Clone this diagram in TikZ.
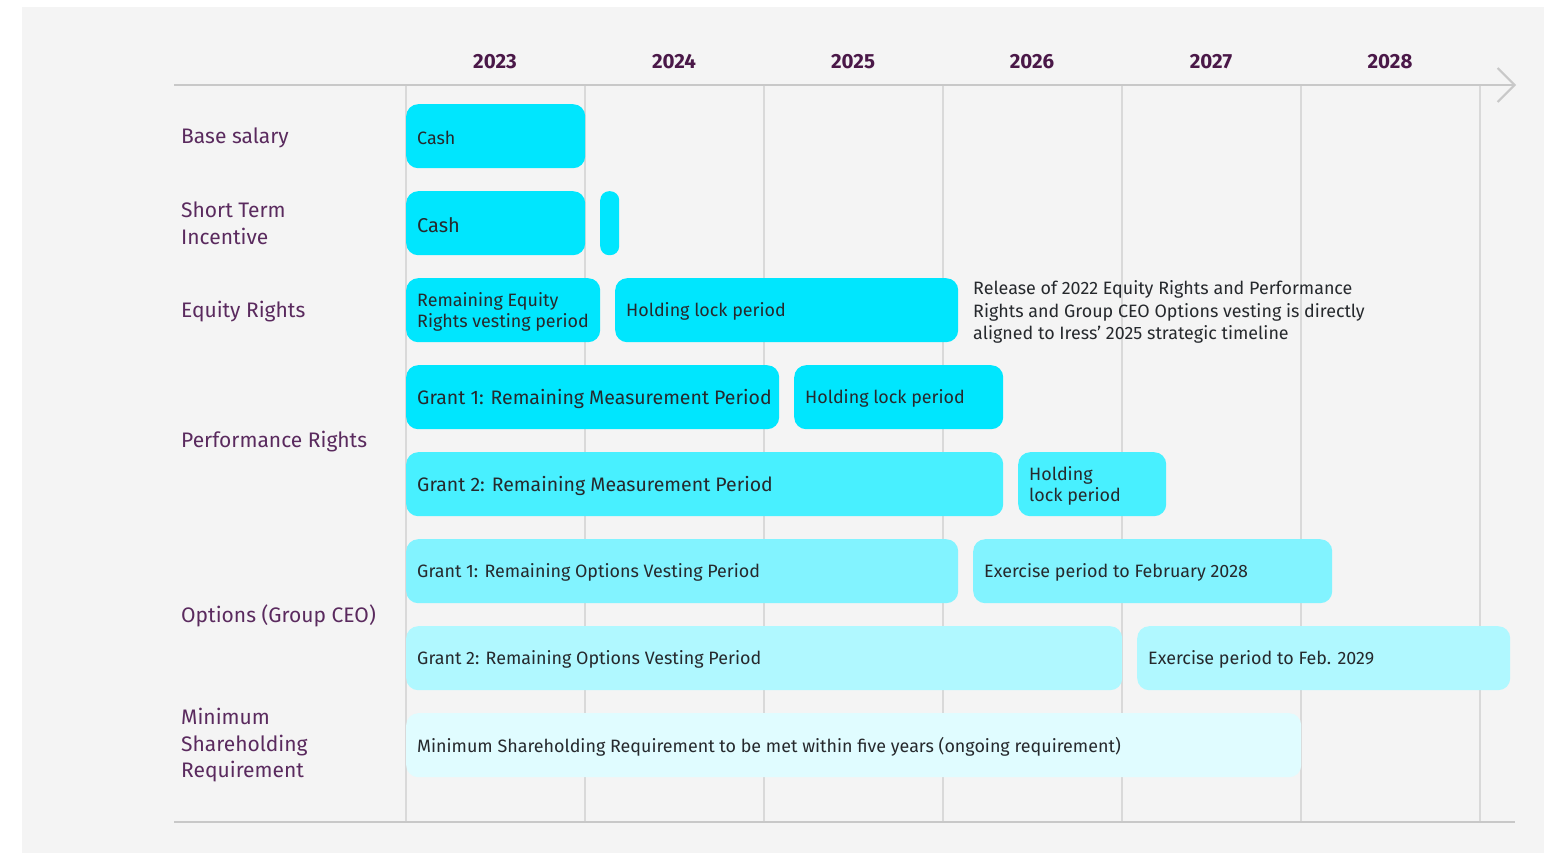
\documentclass[tikz,border=0pt]{standalone}
\usepackage{fontspec}
\setmainfont{Fira Sans}
\usetikzlibrary{arrows.meta,positioning}
\definecolor{bggray}{HTML}{F4F4F4}
\definecolor{axisgray}{HTML}{C8C8C8}
\definecolor{gridgray}{HTML}{D9D9D9}
\definecolor{yearplum}{HTML}{4A1848}
\definecolor{rowplum}{HTML}{5A2A5E}
\definecolor{ink}{HTML}{26292D}
\definecolor{cyanA}{HTML}{00E6FE}
\definecolor{cyanB}{HTML}{48F0FF}
\definecolor{cyanC}{HTML}{82F3FF}
\definecolor{cyanD}{HTML}{B0F8FF}
\definecolor{cyanE}{HTML}{E0FCFF}

\begin{document}
\begin{tikzpicture}[
  x=1pt, y=-1pt,
  font=\fontsize{17.9}{22.5}\selectfont,
  yr/.style={font=\fontsize{20.5}{22}\selectfont\bfseries, text=yearplum},
  row/.style={anchor=west, align=left, font=\fontsize{21}{26.5}\selectfont, text=rowplum, inner sep=0pt, yshift=-1.5pt},
  bar/.style={fill=#1, rounded corners=12pt, anchor=north west, minimum height=64pt, inner sep=0pt},
  txt/.style={anchor=west, align=left, text=ink, inner sep=0pt, yshift=-1.5pt},
  big/.style={font=\fontsize{19.5}{22}\selectfont},
  grid/.style={draw=gridgray, line width=1.5pt},
  axis/.style={draw=axisgray, line width=2pt}
]
\useasboundingbox (0,0) rectangle (1544,853);
\fill[bggray] (22,7) rectangle (1544,853);

% time axis
\coordinate (axL) at (174,85);
\coordinate (axR) at (1516,85);
\coordinate (botL) at (174,822);
\coordinate (botR) at (1515,822);
\foreach \i/\x in {0/406,1/585,2/764,3/943,4/1122,5/1301,6/1480} {
  \coordinate (gt\i) at (\x,85);
  \coordinate (gb\i) at (\x,822);
  \draw[grid] (gt\i) -- (gb\i);
}
\draw[axis, -{Straight Barb[length=17pt, width=34pt, line width=2pt]}] (axL) -- (axR);
\draw[axis, line width=1.5pt] (botL) -- (botR);
\foreach \y [count=\i] in {2023,...,2028}
  \node[yr] (y\y) at (316+179*\i,62) {\y};

% row labels
\node[row] (lbase) at (181,136) {Base salary};
\node[row] (lsti) at (181,222) {Short Term\\Incentive};
\node[row] (lequity) at (181,310) {Equity Rights};
\node[row] (lperf) at (181,440) {Performance Rights};
\node[row] (lopt) at (181,614) {Options (Group CEO)};
\node[row] (lmsr) at (181,744) {Minimum\\Shareholding\\Requirement};

% base salary
\node[bar=cyanA, minimum width=179pt] (base) at (406,104) {};
\node[txt, right=11pt of base.west] (baset) {Cash};

% short term incentive
\node[bar=cyanA, minimum width=179pt] (sti) at (406,191) {};
\node[txt, font=\fontsize{20}{22}\selectfont, right=11pt of sti.west] (stit) {Cash};
\node[bar=cyanA, minimum width=19pt, rounded corners=9pt] (stitail) at (600,191) {};

% equity rights
\node[bar=cyanA, minimum width=194pt] (eqvest) at (406,278) {};
\node[txt, font=\fontsize{17.9}{21}\selectfont, right=11pt of eqvest.west] (eqvestt) {Remaining Equity\\Rights vesting period};
\node[bar=cyanA, minimum width=343pt] (eqhold) at (615,278) {};
\node[txt, right=11pt of eqhold.west] (eqholdt) {Holding lock period};
\node[txt, anchor=north west] (release) at (973,279) {Release of 2022 Equity Rights and Performance\\Rights and Group CEO Options vesting is directly\\aligned to Iress' 2025 strategic timeline};

% performance rights
\node[bar=cyanA, minimum width=373pt] (pgone) at (406,365) {};
\node[txt, big, right=11pt of pgone.west] (pgonet) {Grant 1: Remaining Measurement Period};
\node[bar=cyanA, minimum width=209pt] (phone) at (794,365) {};
\node[txt, right=11pt of phone.west] (phonet) {Holding lock period};
\node[bar=cyanB, minimum width=597pt] (pgtwo) at (406,452) {};
\node[txt, big, right=11pt of pgtwo.west] (pgtwot) {Grant 2: Remaining Measurement Period};
\node[bar=cyanB, minimum width=148pt] (phtwo) at (1018,452) {};
\node[txt, font=\fontsize{17.9}{21}\selectfont, right=11pt of phtwo.west] (phtwot) {Holding\\lock period};

% options (group ceo)
\node[bar=cyanC, minimum width=552pt] (ogone) at (406,539) {};
\node[txt, right=11pt of ogone.west] (ogonet) {Grant 1: Remaining Options Vesting Period};
\node[bar=cyanC, minimum width=359pt] (oxone) at (973,539) {};
\node[txt, right=11pt of oxone.west] (oxonet) {Exercise period to February 2028};
\node[bar=cyanD, minimum width=716pt] (ogtwo) at (406,626) {};
\node[txt, right=11pt of ogtwo.west] (ogtwot) {Grant 2: Remaining Options Vesting Period};
\node[bar=cyanD, minimum width=373pt] (oxtwo) at (1137,626) {};
\node[txt, right=11pt of oxtwo.west] (oxtwot) {Exercise period to Feb. 2029};

% minimum shareholding
\node[bar=cyanE, minimum width=895pt] (msr) at (406,713) {};
\node[txt, right=11pt of msr.west] (msrt) {Minimum Shareholding Requirement to be met within five years (ongoing requirement)};
\end{tikzpicture}
\end{document}
